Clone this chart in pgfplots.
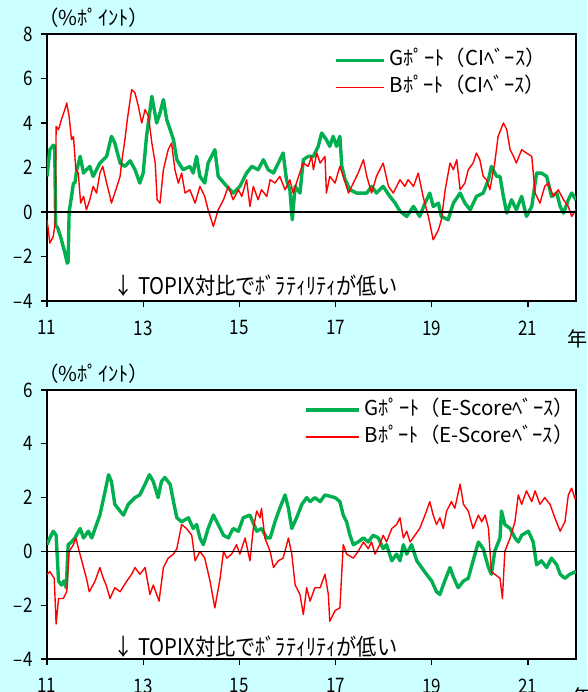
\documentclass[border=0pt]{standalone}
\usepackage{fontspec}
\setmainfont{Noto Sans CJK JP}
\newfontfamily\tickfamily{Noto Sans CJK JP}[FakeStretch=0.85]
\newfontfamily\narrowfam{Noto Sans CJK JP}[FakeStretch=0.88]
\usepackage{pgfplots}
\pgfplotsset{compat=1.18}
\definecolor{bgcyan}{RGB}{204,255,255}
\definecolor{gport}{RGB}{0,176,80}
\definecolor{bport}{RGB}{255,0,0}

\pgfplotstableread{
x y
11.00 1.6
11.03 2.2
11.06 2.8
11.13 3.0
11.16 2.95
11.18 -0.6
11.22 -0.7
11.28 -1.1
11.33 -1.5
11.38 -1.9
11.42 -2.3
11.44 -2.25
11.46 0.0
11.51 0.7
11.55 1.3
11.58 1.3
11.62 1.9
11.69 2.5
11.76 1.75
11.82 1.9
11.89 2.05
11.96 1.6
12.03 1.9
12.10 2.2
12.24 2.5
12.34 3.4
12.41 3.1
12.52 2.2
12.62 2.05
12.73 2.3
12.83 1.9
12.93 1.3
13.00 1.75
13.07 3.4
13.18 5.2
13.28 4.0
13.35 4.45
13.42 5.05
13.49 4.15
13.56 3.7
13.63 3.25
13.70 2.35
13.83 1.9
13.97 2.05
14.04 1.75
14.11 2.5
14.18 1.6
14.28 1.3
14.35 2.2
14.49 2.8
14.56 1.6
14.74 1.15
14.87 0.85
15.01 1.15
15.15 1.75
15.26 2.05
15.39 1.9
15.50 2.35
15.60 1.9
15.71 1.75
15.81 2.2
15.91 2.65
15.98 1.45
16.05 1.0
16.10 -0.35
16.16 1.15
16.26 0.85
16.33 2.35
16.43 2.5
16.54 2.5
16.64 2.95
16.71 3.55
16.81 3.25
16.88 2.95
16.95 3.4
17.02 2.95
17.09 3.4
17.13 2.05
17.20 1.45
17.30 1.0
17.44 0.85
17.65 0.85
17.75 1.15
17.85 0.85
17.99 1.15
18.13 0.7
18.24 0.4
18.34 0.03
18.48 -0.2
18.62 0.25
18.75 -0.2
18.86 0.4
18.96 0.85
19.03 0.25
19.14 0.4
19.20 -0.2
19.34 -0.35
19.45 0.4
19.59 0.85
19.69 0.4
19.80 0.1
19.93 0.7
20.07 0.85
20.18 1.45
20.24 2.05
20.35 1.6
20.42 1.6
20.49 0.7
20.56 -0.05
20.66 0.55
20.76 0.1
20.87 0.7
20.97 -0.2
21.08 0.25
21.18 1.75
21.28 1.75
21.39 1.6
21.49 0.7
21.60 0.85
21.67 0.25
21.74 -0.05
21.84 0.55
21.91 0.85
22.00 0.55
}\gci

\pgfplotstableread{
x y
11.00 -0.35
11.06 -1.4
11.13 -1.1
11.17 -0.5
11.19 3.85
11.24 3.7
11.30 4.15
11.37 4.6
11.41 4.9
11.46 4.3
11.51 3.25
11.55 3.4
11.60 1.9
11.65 1.75
11.70 0.4
11.76 0.7
11.82 0.1
11.89 0.55
11.96 1.15
12.03 0.85
12.10 1.75
12.16 2.05
12.24 1.3
12.31 0.7
12.34 0.4
12.41 0.85
12.52 1.6
12.55 2.2
12.62 3.25
12.67 4.15
12.76 5.5
12.83 5.35
12.90 4.75
12.97 4.0
13.04 4.6
13.11 4.3
13.18 3.1
13.25 2.2
13.29 0.55
13.35 0.4
13.42 1.9
13.52 2.8
13.59 3.1
13.66 1.9
13.73 1.3
13.80 1.75
13.87 0.85
13.97 1.0
14.08 0.4
14.18 1.15
14.28 0.7
14.35 0.1
14.46 -0.65
14.56 0.1
14.67 0.55
14.77 1.15
14.87 0.55
14.98 1.0
15.05 0.7
15.15 1.45
15.22 0.25
15.29 1.15
15.39 0.55
15.46 1.0
15.57 0.7
15.64 1.45
15.74 1.3
15.84 1.6
15.95 1.0
16.05 1.45
16.12 0.85
16.23 1.6
16.33 2.2
16.43 2.05
16.50 2.5
16.54 1.9
16.61 2.65
16.68 2.2
16.78 2.5
16.81 0.85
16.88 1.6
16.99 1.3
17.09 2.05
17.16 1.6
17.27 0.85
17.37 1.3
17.47 1.75
17.58 2.35
17.65 1.6
17.75 0.85
17.85 1.6
17.99 2.2
18.10 1.15
18.20 0.85
18.34 1.45
18.44 1.15
18.51 1.45
18.62 1.15
18.72 1.75
18.82 0.7
18.93 -0.2
19.03 -1.25
19.14 -0.8
19.20 -0.35
19.28 1.0
19.38 2.2
19.45 1.9
19.52 2.35
19.59 1.0
19.69 1.3
19.76 1.9
19.86 2.2
19.93 2.65
20.00 2.35
20.07 1.6
20.14 1.45
20.21 1.0
20.31 2.2
20.38 3.4
20.49 4.0
20.56 3.7
20.63 2.8
20.70 2.5
20.76 2.2
20.87 2.8
20.97 2.65
21.08 2.5
21.15 0.85
21.25 0.4
21.35 1.15
21.42 1.3
21.53 0.7
21.63 1.0
21.74 0.55
21.84 0.25
21.91 -0.2
22.00 0.1
}\bci

\pgfplotstableread{
x y
11.00 0.25
11.06 0.5
11.13 0.75
11.19 0.6
11.24 -1.1
11.30 -1.25
11.35 -1.1
11.40 -1.35
11.44 0.25
11.51 0.35
11.58 0.5
11.69 0.85
11.76 0.5
11.86 0.75
11.93 0.5
12.03 1.0
12.10 1.35
12.21 2.25
12.28 2.85
12.34 2.6
12.41 1.75
12.52 1.5
12.59 1.35
12.69 1.75
12.83 2.0
12.93 2.1
13.04 2.5
13.13 2.85
13.21 2.6
13.31 2.0
13.38 2.6
13.45 2.75
13.56 2.5
13.63 1.85
13.70 1.25
13.80 1.1
13.94 1.25
14.04 0.85
14.11 1.0
14.18 0.5
14.25 0.25
14.35 0.85
14.46 1.35
14.56 1.0
14.67 0.6
14.77 0.5
14.87 0.85
14.98 0.75
15.08 1.25
15.22 1.35
15.36 0.75
15.46 0.85
15.57 0.5
15.64 0.5
15.74 1.1
15.84 1.6
15.95 2.1
16.02 1.6
16.09 0.85
16.19 1.25
16.30 1.75
16.40 2.0
16.47 1.85
16.57 2.0
16.68 1.85
16.78 2.1
16.88 2.05
16.99 2.0
17.09 1.85
17.16 1.35
17.23 1.1
17.30 0.6
17.37 0.25
17.47 0.35
17.58 0.5
17.68 0.35
17.78 0.6
17.89 0.5
17.99 0.1
18.06 0.25
18.17 -0.35
18.27 -0.1
18.34 -0.35
18.41 0.25
18.48 -0.1
18.58 0.25
18.69 -0.35
18.79 -0.6
18.89 -0.85
19.00 -1.1
19.10 -1.5
19.17 -1.6
19.27 -1.1
19.38 -0.6
19.45 -0.95
19.55 -1.35
19.66 -1.1
19.76 -1.0
19.86 -0.35
19.97 0.35
20.07 0.1
20.18 -0.6
20.24 -0.85
20.31 0.0
20.42 0.5
20.45 1.5
20.52 1.0
20.63 0.85
20.73 0.5
20.80 0.35
20.87 0.6
21.01 0.75
21.11 0.35
21.18 -0.5
21.28 -0.35
21.39 -0.6
21.49 -0.25
21.60 -0.5
21.67 -0.85
21.77 -1.0
21.87 -0.85
22.00 -0.75
}\ges

\pgfplotstableread{
x y
11.00 -0.85
11.06 -0.75
11.15 -1.0
11.19 -2.7
11.24 -1.75
11.34 -1.75
11.41 -1.5
11.46 0.0
11.55 0.25
11.60 0.5
11.67 0.0
11.76 -0.6
11.82 -1.0
11.88 -1.5
12.00 -1.1
12.10 -0.6
12.17 -1.0
12.23 -1.25
12.31 -1.75
12.41 -1.35
12.52 -1.5
12.66 -1.1
12.76 -0.85
12.83 -0.6
12.93 -0.85
13.04 -0.6
13.14 -1.6
13.21 -1.25
13.33 -1.85
13.42 -0.6
13.52 -0.25
13.63 -0.1
13.70 0.1
13.80 1.0
13.90 0.85
14.01 0.6
14.08 -0.35
14.18 0.0
14.28 -0.25
14.39 -1.1
14.49 -2.1
14.60 -1.0
14.67 0.0
14.74 -0.25
14.84 -0.1
14.94 0.25
15.01 -0.1
15.12 0.5
15.22 -0.35
15.29 0.85
15.36 1.5
15.43 1.25
15.46 1.6
15.53 0.5
15.64 0.0
15.71 -0.6
15.81 -0.35
15.91 -0.25
16.02 0.5
16.09 -0.1
16.16 -1.25
16.26 -1.6
16.33 -2.35
16.40 -1.35
16.47 -1.85
16.57 -1.35
16.68 -1.35
16.78 -0.85
16.85 -1.6
16.88 -2.6
16.99 -2.2
17.09 -2.1
17.16 0.25
17.23 -0.1
17.37 -0.25
17.47 0.0
17.58 0.35
17.68 0.1
17.75 0.35
17.82 -0.1
17.92 0.25
17.99 0.6
18.06 0.35
18.17 0.85
18.27 1.0
18.34 1.25
18.41 0.5
18.48 0.75
18.55 0.35
18.65 0.6
18.75 0.85
18.86 1.35
18.96 1.85
19.03 1.35
19.10 1.0
19.17 1.25
19.24 0.85
19.31 1.5
19.41 1.85
19.48 1.6
19.59 2.5
19.66 1.75
19.76 1.5
19.86 0.85
19.97 1.35
20.04 1.1
20.11 1.35
20.18 0.85
20.24 -0.75
20.31 -0.85
20.42 -1.0
20.47 -1.75
20.52 0.0
20.63 0.5
20.73 1.1
20.80 2.1
20.87 1.75
20.97 2.25
21.08 1.85
21.15 2.25
21.25 1.75
21.35 2.0
21.46 1.75
21.56 1.25
21.67 0.75
21.77 1.1
21.84 2.1
21.91 2.35
21.98 1.95
22.00 2.1
}\bes

\pgfplotsset{
 mystyle/.style={
  scale only axis, width=529pt,
  xmin=11, xmax=22,
  xtick={11,13,15,17,19,21},
  axis background/.style={fill=white},
  tick align=outside, xtick pos=left, ytick pos=left,
  major tick length=6pt,
  every tick/.style={black, line width=1.3pt},
  axis line style={line width=1.7pt},
  tick label style={font=\tickfamily\fontsize{20}{20}\selectfont},
  /pgf/number format/assume math mode=true,
  yticklabel style={xshift=-5pt},
  xticklabel style={yshift=-10pt},
  legend cell align=left,
  legend style={draw=none, fill=none, inner sep=0pt, anchor=north west,
    font=\fontsize{20.5}{20.5}\selectfont, row sep=7pt, column sep=3pt,
    nodes={inner sep=1pt, text height=14pt, text depth=4pt}},
  title style={at={(rel axis cs:0,1)}, anchor=west, xshift=-9pt, yshift=10pt, inner sep=0pt, font=\fontsize{20.5}{20.5}\selectfont},
  xlabel style={at={(rel axis cs:1,0)}, anchor=north, inner sep=0pt, font=\fontsize{20}{20}\selectfont},
 }
}

\begin{document}
\begin{tikzpicture}[x=1pt,y=1pt]
\path[use as bounding box, fill=bgcyan] (0,0) rectangle (587,692);
\begin{axis}[mystyle, at={(47pt,391pt)}, anchor=south west, height=267pt,
  ymin=-4, ymax=8, ytick={-4,-2,0,2,4,6,8}, yticklabels={–4,–2,0,2,4,6,8},
  legend image code/.code={\draw[#1] (0pt,0pt) -- (48pt,0pt);},
  legend style={at={(0.5425,0.94)}},
  title={（\%ﾎﾟｲﾝﾄ）},
  xlabel={年}, xlabel style={yshift=-28pt, xshift=1pt}]
\addplot[gport, line width=3.4pt, line join=round] table[x=x,y=y] {\gci};
\addlegendentry{Gﾎﾟｰﾄ（CIﾍﾞｰｽ）}
\addplot[bport, line width=1.4pt, line join=round] table[x=x,y=y] {\bci};
\addlegendentry{Bﾎﾟｰﾄ（CIﾍﾞｰｽ）}
\addplot[black, line width=1.2pt, forget plot] coordinates {(11,0) (22,0)};
\node[anchor=west, inner sep=0pt, font=\narrowfam\fontsize{23}{23}\selectfont] at (rel axis cs:0.125,0.056) {↓ TOPIX対比でﾎﾞﾗﾃｨﾘﾃｨが低い};
\end{axis}
\begin{axis}[mystyle, at={(47pt,33pt)}, anchor=south west, height=269pt,
  ymin=-4, ymax=6, ytick={-4,-2,0,2,4,6}, yticklabels={–4,–2,0,2,4,6},
  legend image code/.code={\draw[#1] (0pt,0pt) -- (53pt,0pt);},
  legend style={at={(0.4858,0.963)}},
  title={（\%ﾎﾟｲﾝﾄ）},
  xlabel={年}, xlabel style={yshift=-28pt, xshift=6pt}]
\addplot[gport, line width=3.4pt, line join=round] table[x=x,y=y] {\ges};
\addlegendentry{Gﾎﾟｰﾄ（E-Scoreﾍﾞｰｽ）}
\addplot[bport, line width=1.4pt, line join=round] table[x=x,y=y] {\bes};
\addlegendentry{Bﾎﾟｰﾄ（E-Scoreﾍﾞｰｽ）}
\addplot[black, line width=1.2pt, forget plot] coordinates {(11,0) (22,0)};
\node[anchor=west, inner sep=0pt, font=\narrowfam\fontsize{23}{23}\selectfont] at (rel axis cs:0.125,0.045) {↓ TOPIX対比でﾎﾞﾗﾃｨﾘﾃｨが低い};
\end{axis}
\end{tikzpicture}
\end{document}
